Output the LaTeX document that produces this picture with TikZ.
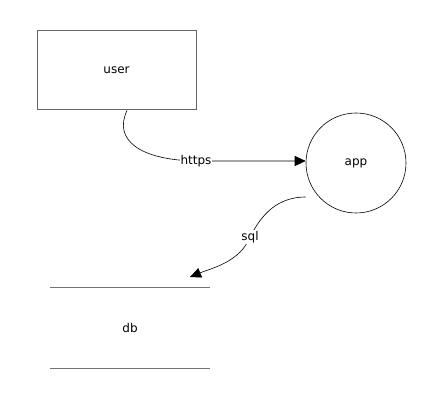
\documentclass[tikz,border=0pt]{standalone}
\usepackage{fontspec}
\setmainfont{DejaVu Sans}
\usetikzlibrary{arrows.meta}

\tikzset{
  box/.style={draw=black!60, line width=1pt, minimum width=159pt, minimum height=79pt},
  proc/.style={draw, circle, line width=0.6pt, minimum size=100pt, inner sep=0pt},
  store/.style={minimum width=160pt, minimum height=80pt},
  storeline/.style={draw=black!55, line width=1.3pt},
  flow/.style={line width=0.6pt, -{Triangle[length=11pt,width=10pt]}},
  flowlabel/.style={fill=white, inner sep=1pt}
}

\begin{document}
\begin{tikzpicture}[x=1pt, y=1pt, font=\fontsize{12}{14}\selectfont]

  % Canvas, same size as the image
  \useasboundingbox (0,0) rectangle (435,-419);

  % The three elements
  \node[box]   (user) at (116.5,-70.5) {user};
  \node[proc]  (app)  at (356,-163)    {app};
  \node[store] (db)   at (130,-328)    {db};

  % Top and bottom lines of the data store
  \draw[storeline] (db.north west) -- (db.north east);
  \draw[storeline] (db.south west) -- (db.south east);

  % user -> app
  \coordinate (uout) at ([xshift=10.5pt]user.south);
  \coordinate (hmid) at (196,-161);
  \draw[flow] (uout) .. controls (113,-140) and (140,-160) .. (hmid) -- (app.west |- hmid);
  \node[flowlabel] (https) at (hmid) {https};

  % app -> db
  \coordinate (aout) at ([yshift=-34pt]app.west);
  \coordinate (smid) at (250,-237);
  \coordinate (din)  at (190,-277);
  \draw[flow] (aout) .. controls (272,-197) and (258,-222) .. (smid)
              .. controls (240,-262) and (212,-268) .. (din);
  \node[flowlabel] (sql) at (smid) {sql};

\end{tikzpicture}
\end{document}
